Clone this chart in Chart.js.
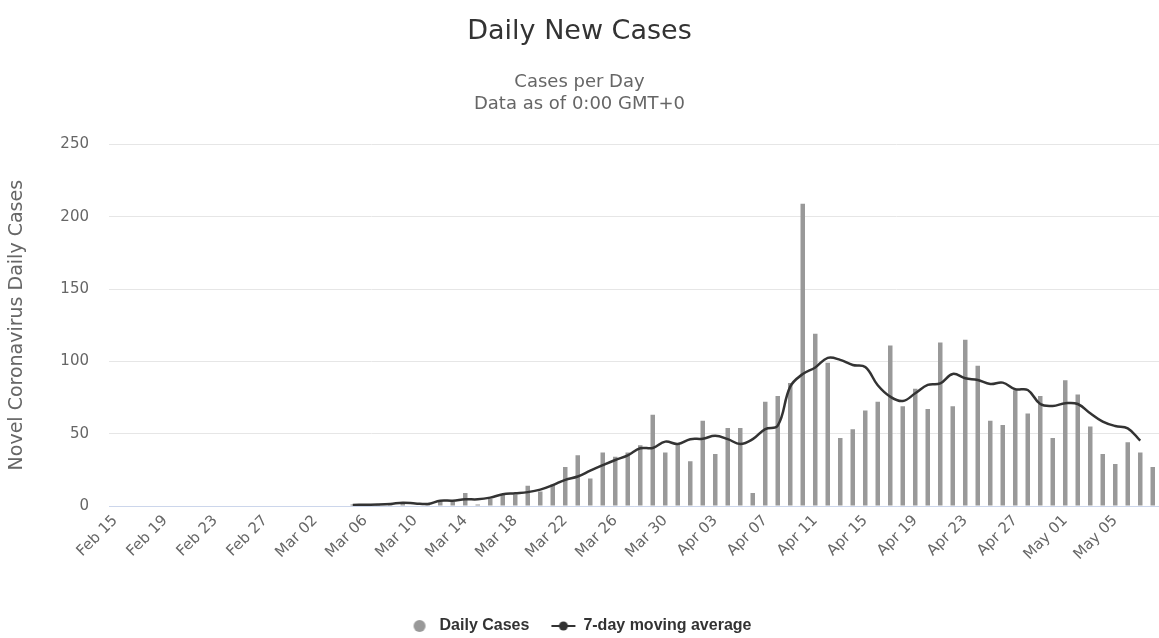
<!DOCTYPE html>
<html>
<head>
<meta charset="utf-8">
<title>Daily New Cases</title>
<script src="https://cdn.jsdelivr.net/npm/chart.js@4.4.0/dist/chart.umd.min.js"></script>
<style>
  html, body { margin: 0; padding: 0; background: #fff; }
</style>
</head>
<body>
<canvas id="casesChart" width="1159" height="638"></canvas>
<script>
const days = [
  'Feb 15','Feb 16','Feb 17','Feb 18','Feb 19','Feb 20','Feb 21','Feb 22','Feb 23','Feb 24','Feb 25','Feb 26','Feb 27','Feb 28','Feb 29',
  'Mar 01','Mar 02','Mar 03','Mar 04','Mar 05','Mar 06','Mar 07','Mar 08','Mar 09','Mar 10','Mar 11','Mar 12','Mar 13','Mar 14','Mar 15',
  'Mar 16','Mar 17','Mar 18','Mar 19','Mar 20','Mar 21','Mar 22','Mar 23','Mar 24','Mar 25','Mar 26','Mar 27','Mar 28','Mar 29','Mar 30','Mar 31',
  'Apr 01','Apr 02','Apr 03','Apr 04','Apr 05','Apr 06','Apr 07','Apr 08','Apr 09','Apr 10','Apr 11','Apr 12','Apr 13','Apr 14','Apr 15',
  'Apr 16','Apr 17','Apr 18','Apr 19','Apr 20','Apr 21','Apr 22','Apr 23','Apr 24','Apr 25','Apr 26','Apr 27','Apr 28','Apr 29','Apr 30',
  'May 01','May 02','May 03','May 04','May 05','May 06','May 07','May 08'
];

// Feb 15 - Mar 04: nothing reported
const dailyCases = [
  0, 0, 0, 0, 0, 0, 0, 0, 0, 0, 0, 0, 0, 0, 0,
  0, 0, 0, 0, 1, 1, 1, 2, 2, 0, 1, 3, 3, 9, 1,
  5, 8, 8, 14, 10, 15, 27, 35, 19, 37, 34, 37, 42, 63, 37, 43,
  31, 59, 36, 54, 54, 9, 72, 76, 85, 209, 119, 99, 47, 53, 66,
  72, 111, 69, 81, 67, 113, 69, 115, 97, 59, 56, 80, 64, 76, 47,
  87, 77, 55, 36, 29, 44, 37, 27
];

const movingAvg = [
  null, null, null, null, null, null, null, null, null, null, null, null, null, null, null,
  null, null, null, null, 0.7, 0.9, 1.0, 1.4, 2.3, 1.8, 1.4, 3.7, 3.7, 4.6, 4.6,
  5.8, 8.1, 8.8, 9.6, 11.3, 14.4, 18.1, 20.4, 24.4, 28.2, 31.8, 35, 39.9, 40.1, 44.5, 42.9,
  46.2, 46.5, 48.5, 46.2, 42.9, 46.2, 53.2, 55.5, 82.5, 91.2, 95.8, 102.4, 101, 97.5, 96.1,
  83.5, 75.6, 72.6, 77.9, 83.7, 84.8, 91.3, 88.3, 87.1, 84.4, 85.3, 80.7, 80.2, 70.5, 69.2,
  71, 70.5, 64.1, 58.3, 55.3, 53.7, 45.2, null
];

const yTicks = [0, 50, 100, 150, 200, 250];

const ctx = document.getElementById('casesChart');
const FONT = 'DejaVu Sans, sans-serif';

// legend markers
function makeMarker(withLine, color) {
  const c = document.createElement('canvas');
  c.width = 26; c.height = 14;
  const m = c.getContext('2d');
  m.fillStyle = color;
  m.strokeStyle = color;
  if (withLine) {
    m.lineWidth = 2;
    m.beginPath(); m.moveTo(1, 7); m.lineTo(25, 7); m.stroke();
  }
  m.beginPath(); m.arc(13, 7, withLine ? 4.5 : 6, 0, Math.PI * 2); m.fill();
  return c;
}

new Chart(ctx, {
  data: {
    labels: days,
    datasets: [
      {
        type: 'bar',
        label: 'Daily Cases',
        data: dailyCases,
        backgroundColor: '#999999',
        categoryPercentage: 1,
        barPercentage: 0.36,
        pointStyle: makeMarker(false, '#999999'),
        order: 2
      },
      {
        type: 'line',
        label: '7-day moving average',
        data: movingAvg,
        borderColor: '#333333',
        borderWidth: 2.5,
        tension: 0.4,
        pointRadius: 0,
        pointHoverRadius: 0,
        pointStyle: makeMarker(true, '#333333'),
        order: 1
      }
    ]
  },
  options: {
    responsive: false,
    animation: false,
    devicePixelRatio: 1,
    layout: { padding: { left: 0, right: 0, top: 0, bottom: -6 } },
    scales: {
      x: {
        grid: { display: false, drawTicks: false },
        border: { display: true, color: '#ccd6eb', width: 1 },
        ticks: {
          autoSkip: false,
          minRotation: 45,
          maxRotation: 45,
          padding: 6,
          color: '#666666',
          font: { family: FONT, size: 15 },
          callback: (val, i) => (i % 4 === 0 ? days[i] : '')
        },
        afterFit: s => {
          s.height = 90;
          s.paddingLeft = 0;
          s.paddingRight = 0;
        }
      },
      y: {
        min: yTicks[0],
        max: yTicks[yTicks.length - 1],
        afterBuildTicks: s => { s.ticks = yTicks.map(v => ({ value: v })); },
        grid: { color: '#e6e6e6', drawTicks: false },
        border: { display: false },
        ticks: { padding: 20, color: '#666666', font: { family: FONT, size: 15 } },
        title: {
          display: true,
          text: 'Novel Coronavirus Daily Cases',
          color: '#666666',
          font: { family: FONT, size: 19 },
          padding: { top: 6, bottom: 0 }
        },
        afterFit: s => { s.width = 109; }
      }
    },
    plugins: {
      title: {
        display: true,
        text: 'Daily New Cases',
        color: '#333333',
        font: { family: FONT, size: 27, weight: 'normal' },
        padding: { top: 16, bottom: 20 }
      },
      subtitle: {
        display: true,
        text: ['Cases per Day', 'Data as of 0:00 GMT+0'],
        color: '#666666',
        font: { family: FONT, size: 18, lineHeight: 1.222 },
        padding: { top: 3, bottom: 29 }
      },
      legend: {
        position: 'bottom',
        labels: {
          usePointStyle: true,
          pointStyleWidth: 24,
          boxHeight: 12,
          padding: 22,
          color: '#333333',
          font: { family: 'Liberation Sans, Arial, sans-serif', size: 16, weight: 'bold' },
          sort: (a, b) => a.datasetIndex - b.datasetIndex
        }
      },
      tooltip: { enabled: false }
    }
  }
});
</script>
</body>
</html>
